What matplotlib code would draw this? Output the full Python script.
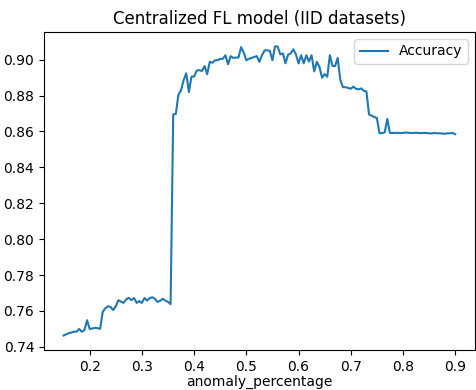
import numpy as np
import matplotlib
matplotlib.use("Agg")
import matplotlib.pyplot as plt

# anomaly percentage from 0.15 to 0.90 in steps of 0.005
anomaly_percentage = np.round(np.arange(0.15, 0.9001, 0.005), 3)

accuracy = [
    0.7463, 0.7470, 0.7476, 0.7480, 0.7484, 0.7485, 0.7500, 0.7484, 0.7494, 0.7548,
    0.7500, 0.7502, 0.7506, 0.7504, 0.7500, 0.7595, 0.7615, 0.7626, 0.7622, 0.7605,
    0.7625, 0.7660, 0.7652, 0.7645, 0.7665, 0.7673, 0.7660, 0.7672, 0.7645, 0.7655,
    0.7645, 0.7672, 0.7658, 0.7672, 0.7676, 0.7668, 0.7650, 0.7657, 0.7668, 0.7658,
    0.7650, 0.7638, 0.8695, 0.8698, 0.8805, 0.8830, 0.8887, 0.8924, 0.8820, 0.8906,
    0.8906, 0.8939, 0.8942, 0.8937, 0.8964, 0.8919, 0.8988, 0.8983, 0.8997, 0.8997,
    0.9005, 0.9005, 0.9025, 0.8975, 0.9020, 0.9010, 0.9012, 0.9012, 0.9070, 0.9040,
    0.8997, 0.9005, 0.9010, 0.9015, 0.9020, 0.8988, 0.9025, 0.9052, 0.9052, 0.9050,
    0.8997, 0.9074, 0.9074, 0.9030, 0.9035, 0.8980, 0.9028, 0.9035, 0.9058, 0.9030,
    0.8980, 0.9025, 0.8980, 0.9025, 0.8990, 0.9025, 0.8935, 0.8988, 0.8960, 0.8900,
    0.8920, 0.8905, 0.9025, 0.8965, 0.8965, 0.9010, 0.8887, 0.8847, 0.8847, 0.8843,
    0.8838, 0.8850, 0.8838, 0.8835, 0.8840, 0.8827, 0.8823, 0.8695, 0.8688, 0.8681,
    0.8675, 0.8591, 0.8591, 0.8595, 0.8670, 0.8592, 0.8592, 0.8592, 0.8593, 0.8591,
    0.8592, 0.8594, 0.8593, 0.8592, 0.8592, 0.8593, 0.8592, 0.8591, 0.8592, 0.8592,
    0.8590, 0.8589, 0.8592, 0.8590, 0.8590, 0.8589, 0.8587, 0.8590, 0.8590, 0.8592,
    0.8585,
]

fig = plt.figure(figsize=(4.76, 3.9), dpi=100)
ax = fig.add_axes([0.0924, 0.1026, 0.905, 0.8154])
ax.plot(anomaly_percentage, accuracy, color="#1f77b4", label="Accuracy")
ax.set_title("Centralized FL model (IID datasets)", fontsize=12)
ax.set_xlabel("anomaly_percentage", fontsize=10, labelpad=0.5)
ax.legend(loc="upper right")

fig.savefig("out.png", dpi=100)
